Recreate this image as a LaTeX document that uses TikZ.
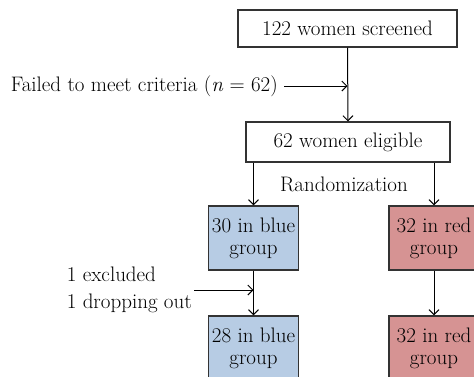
\documentclass[tikz,border=0pt]{standalone}
\usetikzlibrary{arrows.meta,positioning}
\definecolor{bluegrp}{HTML}{B7CCE4}
\definecolor{redgrp}{HTML}{D69393}
\begin{document}
\begin{tikzpicture}[x=1pt, y=-1pt, >={Straight Barb[length=5pt,width=10pt]},
    every node/.style={font=\fontsize{21}{22}\selectfont, inner sep=0pt},
    box/.style={draw=black!80, line width=1.2pt, fill=white, align=center},
    grpbox/.style={box, minimum width=90pt, minimum height=64pt, font=\fontsize{21}{22}\selectfont},
    flow/.style={->, line width=1pt}]
    \useasboundingbox (0,0) rectangle (474,376);
    \clip (0,0) rectangle (474,376);

    % Screening and eligibility
    \node[box, minimum width=219pt, minimum height=37pt] (screen) at (347.5, 28.5) {122 women screened};
    \node[box, minimum width=204pt, minimum height=40pt] (elig) at (348, 142) {62 women eligible};
    \node[anchor=east] (fail) at (278, 86) {Failed to meet criteria (\textit{n} = 62)};
    \coordinate (failend) at (fail.east -| screen.south);
    \draw[flow] ([xshift=6pt]fail.east) -- (failend);
    \draw[flow] (screen.south) -- (elig.north);

    % Randomization
    \node (rand) at (344, 184) {Randomization};

    % Groups
    \node[grpbox, fill=bluegrp] (blueA) at (253.5, 238) {30 in blue\\group};
    \node[grpbox, fill=redgrp] (redA) at (434, 238) {32 in red\\group};
    \node[grpbox, fill=bluegrp] (blueB) at (253.5, 348) {28 in blue\\group};
    \node[grpbox, fill=redgrp] (redB) at (434, 348) {32 in red\\group};
    \draw[flow] (elig.south -| blueA.north) -- (blueA.north);
    \draw[flow] (elig.south -| redA.north) -- (redA.north);
    \draw[flow] (blueA.south) -- (blueB.north);
    \draw[flow] (redA.south) -- (redB.north);

    % Losses
    \node[anchor=east, align=left, font=\fontsize{21}{27}\selectfont] (loss) at (192, 290) {1 excluded\\1 dropping out};
    \coordinate (lossend) at (loss.east -| blueA.south);
    \draw[flow] ([xshift=2pt]loss.east) -- (lossend);
\end{tikzpicture}
\end{document}
